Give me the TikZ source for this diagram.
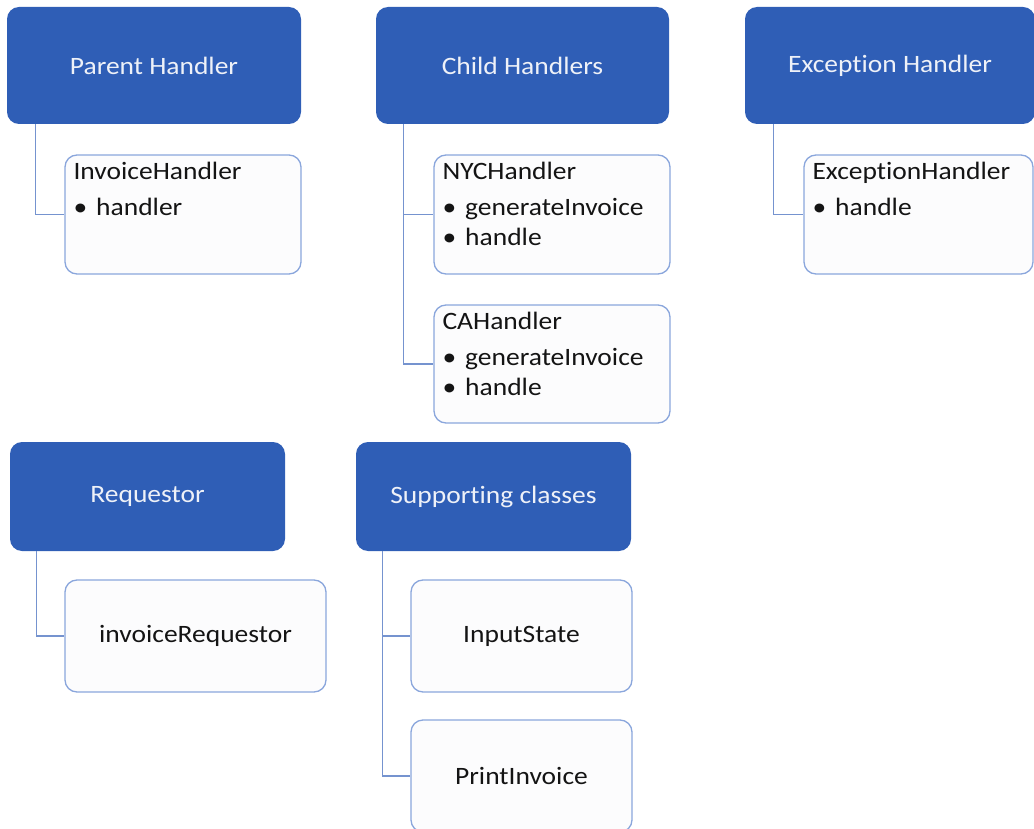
\documentclass[tikz,border=0pt]{standalone}
\usepackage{fontspec}
\setmainfont{Carlito}[Ligatures={NoCommon,NoContextual},FakeStretch=1.1]
\usepackage{tikz}
\usetikzlibrary{positioning,calc}
\definecolor{headblue}{HTML}{2F5EB6}
\definecolor{edgeblue}{HTML}{8AA6DC}
\definecolor{linkblue}{HTML}{7593CF}
\definecolor{paper}{HTML}{FCFCFD}
\definecolor{ink}{HTML}{141414}
\definecolor{headtext}{HTML}{EEF1F8}
\tikzset{
  head/.style={fill=headblue,rounded corners=12pt,inner sep=0pt,text=headtext,
    font=\fontsize{25}{30}\selectfont},
  member/.style={draw=edgeblue,fill=paper,rounded corners=12pt,line width=1.3pt,inner sep=0pt},
  memtext/.style={anchor=north west,align=left,inner sep=0pt,text=ink,
    font=\fontsize{25}{30}\selectfont},
  link/.style={linkblue,line width=1.3pt}
}
\newcommand{\bul}{\textbullet\hspace{9pt}}

\begin{document}
\begin{tikzpicture}[x=1pt,y=-1pt]
  \useasboundingbox (0,0) rectangle (1034,829);
  % headers
  \node[head,minimum width=294pt,minimum height=117pt] (parent) at (154,65.5) {Parent Handler};
  \node[head,minimum width=293pt,minimum height=117pt] (child) at (522.5,65.5) {Child Handlers};
  \node[head,minimum width=290pt,minimum height=117pt] (exc) at (890,65.5) {Exception Handler};
  \node[head,minimum width=275pt,minimum height=109pt] (req) at (147.5,496.5) {Requestor};
  \node[head,minimum width=275pt,minimum height=109pt] (sup) at (493.5,496.5) {Supporting classes};
  % members
  \node[member,minimum width=236pt,minimum height=119pt] (inv) at (183,214.5) {};
  \node[member,minimum width=236pt,minimum height=119pt] (nyc) at (552,214.5) {};
  \node[member,minimum width=236pt,minimum height=118pt] (ca) at (552,364) {};
  \node[member,minimum width=229pt,minimum height=119pt] (exch) at (918.5,214.5) {};
  \node[member,minimum width=261pt,minimum height=112pt,text=ink,
    font=\fontsize{25}{30}\selectfont] (invreq) at (195.5,636) {invoiceRequestor};
  \node[member,minimum width=221pt,minimum height=112pt,text=ink,
    font=\fontsize{25}{30}\selectfont] (input) at (521.5,636) {InputState};
  \node[member,minimum width=221pt,minimum height=112pt,text=ink,
    font=\fontsize{25}{30}\selectfont] (print) at (521.5,776) {PrintInvoice};
  \node[memtext] (invT) at ([xshift=9pt,yshift=-8pt]inv.north west) {InvoiceHandler\\[6pt]\bul handler};
  \node[memtext] (nycT) at ([xshift=9pt,yshift=-8pt]nyc.north west) {NYCHandler\\[6pt]\bul generateInvoice\\\bul handle};
  \node[memtext] (caT) at ([xshift=9pt,yshift=-8pt]ca.north west) {CAHandler\\[6pt]\bul generateInvoice\\\bul handle};
  \node[memtext] (exchT) at ([xshift=9pt,yshift=-8pt]exch.north west) {ExceptionHandler\\[6pt]\bul handle};
  % connectors
  \draw[link] ([xshift=29pt]parent.south west) |- (inv.west);
  \draw[link] ([xshift=28pt]child.south west) |- (nyc.west);
  \draw[link] ([xshift=28pt]child.south west) |- (ca.west);
  \draw[link] ([xshift=29pt]exc.south west) |- (exch.west);
  \draw[link] ([xshift=27pt]req.south west) |- (invreq.west);
  \draw[link] ([xshift=27pt]sup.south west) |- (input.west);
  \draw[link] ([xshift=27pt]sup.south west) |- (print.west);
\end{tikzpicture}
\end{document}
